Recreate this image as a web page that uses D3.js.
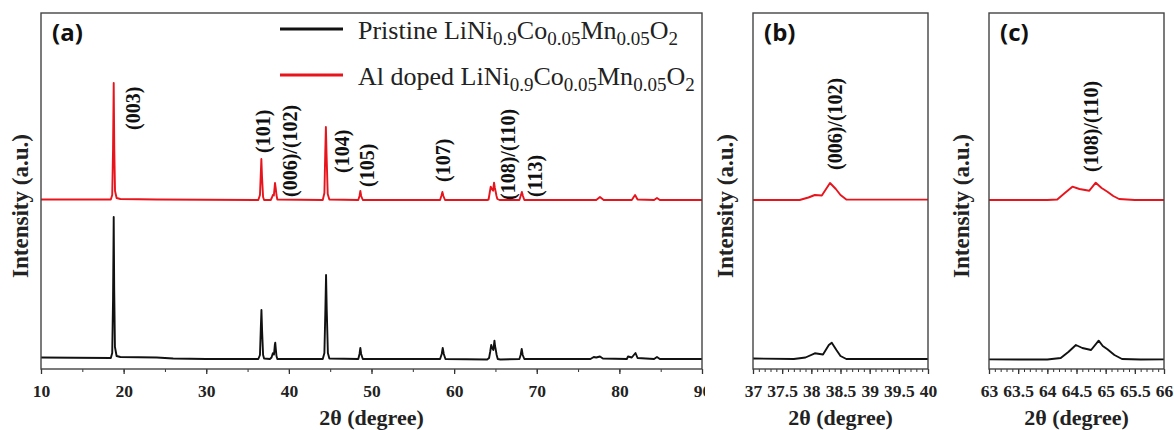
<!DOCTYPE html>
<html><head><meta charset="utf-8">
<script src="https://cdn.jsdelivr.net/npm/d3@7"></script>
<style>body{margin:0;background:#fff}svg{display:block}</style>
</head><body><svg id="chart" width="1174" height="430"></svg>
<script>
// ---- data (2θ in degrees, intensity in arbitrary units) ----
const pristine = [[10,11.5],[14,11.3],[18.45,11],[18.62,16],[18.72,70],[18.8,152],[18.86,80],[18.95,22],[19.15,13],[19.6,12],[24,11.5],[26,10.5],[30,10],[36.3,10],[36.5,14],[36.6,40],[36.68,59],[36.76,38],[36.88,14],[37.0,10.5],[37.7,10],[37.9,11.5],[38.06,15.7],[38.2,14.5],[38.3,24],[38.35,26.3],[38.43,19],[38.5,13],[38.6,10],[44.1,10],[44.3,16],[44.42,60],[44.5,94],[44.58,60],[44.72,16],[44.9,10.5],[48.4,10],[48.55,15],[48.65,21],[48.75,15],[48.95,10],[58.3,10],[58.5,15],[58.62,21],[58.75,15],[58.95,10],[64.0,9.5],[64.23,11],[64.36,17],[64.49,24],[64.6,21],[64.75,19],[64.88,28.3],[64.95,23],[65.03,19.7],[65.15,14],[65.28,10],[65.6,9.5],[67.9,10],[68.05,14],[68.18,20],[68.3,14],[68.5,10],[76.5,10],[76.9,12],[77.2,11.5],[77.65,12.5],[78.0,10.5],[80.9,10],[81.05,12.5],[81.5,11.5],[81.95,16],[82.2,11],[84.2,10],[84.55,12],[84.9,10],[90,10]];
const alDoped = [[10,169.5],[18.45,169.5],[18.62,174],[18.72,220],[18.8,286],[18.87,220],[18.96,178],[19.15,171],[19.6,170],[24,169.5],[36.3,169],[36.5,174],[36.6,195],[36.67,210],[36.75,192],[36.88,172],[37.0,169],[37.8,169],[37.95,171.5],[38.06,174],[38.18,173.5],[38.32,186],[38.42,180],[38.5,174],[38.6,169.5],[44.1,169],[44.3,176],[44.4,215],[44.48,242],[44.56,215],[44.7,175],[44.9,169.5],[48.4,169],[48.55,173],[48.65,178],[48.75,173],[48.95,169],[58.3,169],[58.45,173],[58.58,177],[58.7,173],[58.9,169],[64.0,169],[64.17,169.5],[64.3,176],[64.43,182.3],[64.55,180],[64.72,178.3],[64.83,186.3],[64.93,181],[65.03,177.3],[65.13,173],[65.23,170],[65.5,169],[67.9,169],[68.05,173],[68.2,177],[68.33,173],[68.5,169],[77.2,169],[77.65,172],[78.1,169],[81.5,169],[81.9,174],[82.2,169.5],[84.2,169],[84.55,171],[84.9,169],[90,169]];
const seriesNames = ["Pristine LiNi", "Al doped LiNi"];
const formulaParts = [["Co","0.9"],["Mn","0.05"],["O","0.05"],["","2"]];
const hklLabels = ["(003)","(101)","(006)/(102)","(104)","(105)","(107)","(108)/(110)","(113)"];
const hklTheta = [21.13,36.87,40.14,46.43,49.46,58.65,66.52,69.79];
const hklLabelIntensity = [239,216,172,196,182,187,169,172];
const zoomLabels = ["(006)/(102)","(108)/(110)"];
const zoomLabelTheta = [38.41,64.74];
const zoomLabelIntensity = [199,197];
const panelLetters = ["(a)","(b)","(c)"];
const panelDomains = [[10,90],[37,40],[63,66]];
const ticksA = [10,20,30,40,50,60,70,80,90];
const ticksB = [37,37.5,38,38.5,39,39.5,40];
const ticksC = [63,63.5,64,64.5,65,65.5,66];
const xTitle = "2θ (degree)";
const yTitle = "Intensity (a.u.)";

// ---- layout ----
const svg = d3.select("#chart");
const plotTop = 13, plotBottom = 369;
const panels = [
  {x0:41, x1:702, ticks:ticksA, minorStep:5, ytx:28},
  {x0:753, x1:928, ticks:ticksB, minorStep:0.1, ytx:733},
  {x0:989, x1:1164, ticks:ticksC, minorStep:0.1, ytx:969}
];
const y = d3.scaleLinear().domain([0, plotBottom-plotTop]).range([plotBottom, plotTop]);
const serif = "'Liberation Serif','Times New Roman',serif";
const colors = ["#111111", "#e8141c"];

panels.forEach((p, i) => {
  const g = svg.append("g");
  if (i > 0) g.append("rect").attr("x", p.x0-48).attr("y",0).attr("width", p.x1-p.x0+60).attr("height",430).attr("fill","#fff");
  const x = d3.scaleLinear().domain(panelDomains[i]).range([p.x0, p.x1]);
  const cid = "clip"+i;
  svg.append("defs").append("clipPath").attr("id", cid).append("rect")
    .attr("x", p.x0).attr("y", plotTop).attr("width", p.x1-p.x0).attr("height", plotBottom-plotTop);
  const line = d3.line().x(d => x(d[0])).y(d => y(d[1]));
  [pristine, alDoped].forEach((s, k) => {
    g.append("path").attr("d", line(s)).attr("clip-path", `url(#${cid})`)
      .attr("fill","none").attr("stroke", colors[k]).attr("stroke-width", 1.9).attr("stroke-linejoin","round");
  });
  const d0 = panelDomains[i][0], d1 = panelDomains[i][1];
  const minor = d3.range(Math.round((d1-d0)/p.minorStep)+1).map(j => d0 + j*p.minorStep);
  const ax = d3.axisBottom(x).tickValues(minor).tickSize(3).tickFormat("");
  g.append("g").attr("transform", `translate(0,${plotBottom})`).call(ax)
    .call(a => a.select(".domain").remove())
    .call(a => a.selectAll("line").attr("stroke","#333").attr("stroke-width",1));
  const axM = d3.axisBottom(x).tickValues(p.ticks).tickSize(5).tickPadding(9).tickFormat(d => String(d));
  g.append("g").attr("transform", `translate(0,${plotBottom})`).call(axM)
    .attr("font-family", serif)
    .call(a => a.select(".domain").remove())
    .call(a => a.selectAll("line").attr("stroke","#333").attr("stroke-width",1.3))
    .call(a => a.selectAll("text").attr("font-family", serif).attr("font-weight","bold")
      .attr("font-size", 17.5).attr("fill","#222").attr("dy", null).attr("y", 28));
  g.append("rect").attr("x", p.x0).attr("y", plotTop).attr("width", p.x1-p.x0).attr("height", plotBottom-plotTop)
    .attr("fill","none").attr("stroke","#444").attr("stroke-width",1.4);
  g.append("text").attr("x", (p.x0+p.x1)/2).attr("y", 425).attr("text-anchor","middle")
    .attr("font-family", serif).attr("font-weight","bold").attr("font-size", 22).attr("fill","#222").text(xTitle);
  g.append("text").attr("transform", `translate(${p.ytx},206) rotate(-90)`).attr("text-anchor","middle")
    .attr("font-family", serif).attr("font-weight","bold").attr("font-size", 23).attr("fill","#222").text(yTitle);
  g.append("text").attr("x", p.x0+11).attr("y", 41)
    .attr("font-family", "'Open Sans','Noto Sans',sans-serif").attr("font-weight","bold").attr("font-size", 24)
    .attr("fill","#111").text(panelLetters[i]);
  const labs = i === 0 ? hklLabels : [zoomLabels[i-1]];
  const th = i === 0 ? hklTheta : [zoomLabelTheta[i-1]];
  const iv = i === 0 ? hklLabelIntensity : [zoomLabelIntensity[i-1]];
  labs.forEach((t, j) => {
    g.append("text").attr("transform", `translate(${x(th[j])},${y(iv[j])}) rotate(-90)`)
      .attr("dy","0.35em").attr("font-family", serif).attr("font-weight","bold").attr("font-size", 20)
      .attr("fill","#111").text(t);
  });
});

const leg = svg.append("g");
const legY = [29, 75];
seriesNames.forEach((name, k) => {
  leg.append("line").attr("x1",280).attr("x2",343).attr("y1",legY[k]).attr("y2",legY[k])
    .attr("stroke", colors[k]).attr("stroke-width",3);
  const t = leg.append("text").attr("x",358).attr("y",legY[k]+9.5)
    .attr("font-family", serif).attr("font-size", 26).attr("fill","#222");
  t.append("tspan").text(name);
  formulaParts.forEach(([main, sub]) => {
    t.append("tspan").attr("font-size", 19).attr("dy", 6).text(sub);
    if (main) t.append("tspan").attr("dy", -6).text(main);
  });
});
</script></body></html>
